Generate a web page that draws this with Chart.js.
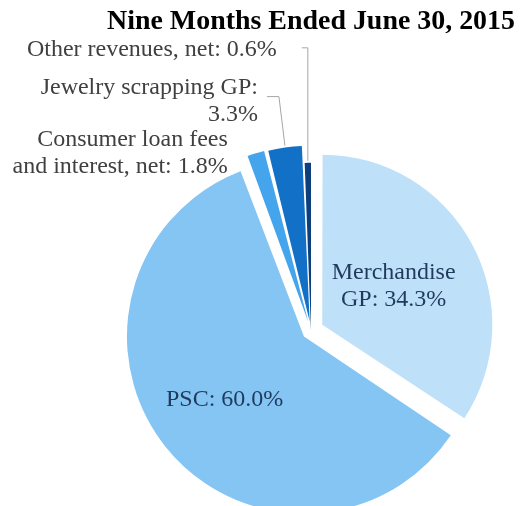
<!DOCTYPE html>
<html>
<head>
<meta charset="utf-8">
<script src="https://cdn.jsdelivr.net/npm/chart.js@4.4.1/dist/chart.umd.min.js"></script>
<style>
  html, body { margin: 0; padding: 0; background: #fff; overflow: hidden; }
</style>
</head>
<body>
<canvas id="revenueChart" width="522" height="506"></canvas>
<script>
// Revenue mix, nine months ended June 30, 2015
const categories = ['Merchandise GP', 'PSC', 'Consumer loan fees and interest, net', 'Jewelry scrapping GP', 'Other revenues, net'];
const shares = [34.3, 60.0, 1.8, 3.3, 0.6];
const sliceColors = ['#bfe0f9', '#84c5f4', '#45a5ec', '#1270c6', '#0c3f7c'];
// Chart.js offset values (the arc moves roughly offset/4 .. offset/2 px)
const explode = [51, 36, 38, 38, 0];

// label wrapping widths (like the text boxes in the original)
const wrapWidth = [130, 300, 222, 232, 320];

const serif = "'Liberation Serif', 'Times New Roman', serif";

function wrapText(ctx, text, maxW) {
    const words = text.split(' ');
    const lines = [];
    let line = '';
    words.forEach(w => {
        const test = line ? line + ' ' + w : w;
        if (line && ctx.measureText(test).width > maxW) {
            lines.push(line);
            line = w;
        } else {
            line = test;
        }
    });
    if (line) lines.push(line);
    return lines;
}

// same displacement as ArcElement.draw applies for the offset option
function shiftOf(arc) {
    const off = (arc.options.offset || 0) / 4;
    const circ = arc.endAngle - arc.startAngle;
    return off * (2 - Math.sin(Math.min(Math.PI, circ)));
}

const sliceLabels = {
    id: 'sliceLabels',
    afterDatasetsDraw(chart) {
        const ctx = chart.ctx;
        const arcs = chart.getDatasetMeta(0).data;
        const lh = 27;
        ctx.save();
        ctx.font = '24px ' + serif;
        ctx.textBaseline = 'middle';

        arcs.forEach((arc, i) => {
            const mid = (arc.startAngle + arc.endAngle) / 2;
            const dx = Math.cos(mid), dy = Math.sin(mid);
            const off = shiftOf(arc);
            const r = arc.outerRadius;
            const text = categories[i] + ': ' + shares[i].toFixed(1) + '%';
            const lines = wrapText(ctx, text, wrapWidth[i]);

            if (i < 2) {
                // labels inside the big slices
                const k = i === 0 ? 0.47 : 0.55;
                const cx = arc.x + dx * (off + r * k);
                const cy = arc.y + dy * (off + r * k);
                ctx.fillStyle = '#1f3a5c';
                ctx.textAlign = 'center';
                lines.forEach((l, j) => {
                    ctx.fillText(l, cx, cy + (j - (lines.length - 1) / 2) * lh);
                });
                return;
            }

            // outside labels for the thin slices
            const px = arc.x + dx * (off + r);
            const py = arc.y + dy * (off + r);
            let tx, ty;
            ctx.strokeStyle = '#a6a6a6';
            ctx.lineWidth = 1;
            if (i === 2) {
                tx = px - 28; ty = py;
            } else if (i === 3) {
                const ex = px - 6, ey = py - 51;
                ctx.beginPath();
                ctx.moveTo(px, py - 2);
                ctx.lineTo(ex, ey);
                ctx.lineTo(ex - 12, ey);
                ctx.stroke();
                tx = px - 27; ty = py - 46;
            } else {
                const ey = py - 115;
                ctx.beginPath();
                ctx.moveTo(px, py - 2);
                ctx.lineTo(px, ey);
                ctx.lineTo(px - 6, ey);
                ctx.stroke();
                tx = px - 31; ty = py - 113;
            }
            ctx.fillStyle = '#404040';
            ctx.textAlign = 'right';
            lines.forEach((l, j) => {
                ctx.fillText(l, tx, ty + (j - (lines.length - 1) / 2) * lh);
            });
        });
        ctx.restore();
    }
};

new Chart(document.getElementById('revenueChart'), {
    type: 'pie',
    data: {
        labels: categories,
        datasets: [{
            data: shares,
            backgroundColor: sliceColors,
            borderWidth: 0,
            offset: explode,
            clip: false
        }]
    },
    options: {
        responsive: false,
        animation: false,
        radius: 168,
        layout: { padding: { left: 107, right: 7, top: 0, bottom: 0 } },
        plugins: {
            legend: { display: false },
            tooltip: { enabled: false },
            title: {
                display: true,
                text: 'Nine Months Ended June 30, 2015',
                align: 'end',
                color: '#000',
                font: { family: serif, size: 28, weight: 'bold' },
                padding: { top: 5, bottom: 117 }
            }
        }
    },
    plugins: [sliceLabels]
});
</script>
</body>
</html>
